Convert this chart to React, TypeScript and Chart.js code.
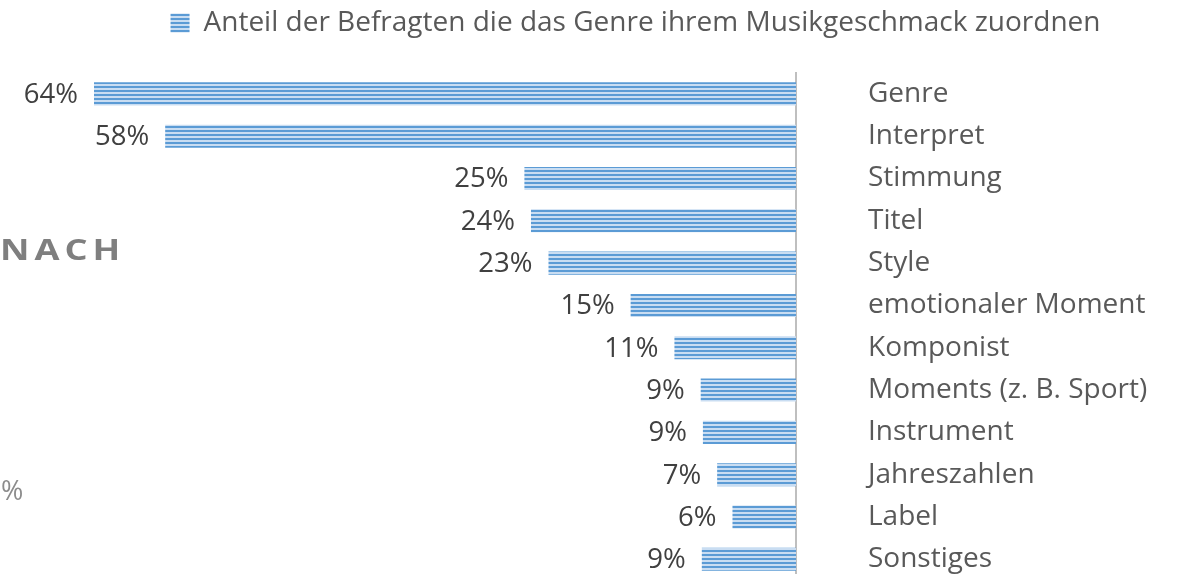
import React, { useEffect, useRef } from 'react';
import { Chart, registerables } from 'chart.js';

Chart.register(...registerables);

const categories = [
  'Genre',
  'Interpret',
  'Stimmung',
  'Titel',
  'Style',
  'emotionaler Moment',
  'Komponist',
  'Moments (z. B. Sport)',
  'Instrument',
  'Jahreszahlen',
  'Label',
  'Sonstiges',
];
const values = [64.1, 57.6, 24.8, 24.2, 22.6, 15.1, 11.1, 8.7, 8.5, 7.2, 5.8, 8.6];
const seriesLabel = 'Anteil der Befragten die das Genre ihrem Musikgeschmack zuordnen';

const FONT = "'Open Sans', sans-serif";
const W = 1177;
const H = 600;

function makePattern(): CanvasPattern | string {
  const c = document.createElement('canvas');
  c.width = 4;
  c.height = 4;
  const g = c.getContext('2d');
  if (!g) return '#5b9bd5';
  g.fillStyle = '#c9ddf2';
  g.fillRect(0, 0, 4, 2);
  g.fillStyle = '#5b9bd5';
  g.fillRect(0, 2, 4, 2);
  return g.createPattern(c, 'repeat') || '#5b9bd5';
}

const legendGapPlugin = {
  id: 'legendGap',
  beforeInit(chart: any) {
    const legend = chart.legend;
    if (!legend) return;
    const orig = legend.fit;
    legend.fit = function () {
      orig.call(this);
      this.height += 25.7;
    };
  },
};

const dataLabelPlugin = {
  id: 'dataLabels',
  afterDatasetsDraw(chart: any) {
    const ctx = chart.ctx;
    const meta = chart.getDatasetMeta(0);
    ctx.save();
    ctx.font = `27.5px ${FONT}`;
    ctx.fillStyle = '#404040';
    ctx.textAlign = 'right';
    ctx.textBaseline = 'middle';
    meta.data.forEach((bar: any, i: number) => {
      const v = chart.data.datasets[0].data[i] as number;
      ctx.fillText(`${Math.round(v)}%`, bar.x - 16, bar.y + 1);
    });
    ctx.restore();
  },
};

export default function App() {
  const ref = useRef<HTMLCanvasElement | null>(null);

  useEffect(() => {
    if (!ref.current) return;
    const pattern = makePattern();
    const chart = new Chart(ref.current, {
      type: 'bar',
      data: {
        labels: categories,
        datasets: [
          {
            label: seriesLabel,
            data: values,
            backgroundColor: pattern as any,
            borderWidth: 0,
            categoryPercentage: 1,
            barPercentage: 0.545,
          },
        ],
      },
      options: {
        indexAxis: 'y',
        animation: false,
        responsive: false,
        maintainAspectRatio: false,
        devicePixelRatio: 1,
        layout: { padding: { left: 94, right: 0, top: 0, bottom: 19.5 } },
        plugins: {
          legend: {
            display: true,
            position: 'top',
            labels: {
              font: { family: FONT, size: 28 },
              color: '#595959',
              boxWidth: 19,
              boxHeight: 19,
              padding: 9,
            },
          },
          tooltip: { enabled: false },
        },
        scales: {
          x: {
            display: false,
            reverse: true,
            min: 0,
            max: 64.1,
          },
          y: {
            position: 'right',
            grid: { display: false },
            border: { display: true, color: '#bfbfbf', width: 2 },
            ticks: {
              font: { family: FONT, size: 28 },
              color: '#595959',
              padding: 64,
            },
            afterFit(scale: any) {
              scale.width = 381;
              scale.paddingTop = 0;
              scale.paddingBottom = 0;
            },
          },
        },
      },
      plugins: [legendGapPlugin, dataLabelPlugin],
    });
    return () => chart.destroy();
  }, []);

  return (
    <div style={{ position: 'absolute', left: 0, top: 0, width: W, height: H }}>
      <canvas ref={ref} width={W} height={H} style={{ display: 'block', width: W, height: H }} />
      <div
        style={{
          position: 'absolute',
          left: 0,
          top: 232,
          fontFamily: FONT,
          fontWeight: 700,
          fontSize: 29,
          letterSpacing: 4,
          color: '#7f7f7f',
          lineHeight: '34px',
          whiteSpace: 'nowrap',
          transform: 'scaleX(1.25)',
          transformOrigin: 'left top',
        }}
      >
        NACH
      </div>
      <div
        style={{
          position: 'absolute',
          left: 1,
          top: 474,
          fontFamily: FONT,
          fontSize: 27,
          color: '#8c8c8c',
          lineHeight: '32px',
        }}
      >
        %
      </div>
    </div>
  );
}
